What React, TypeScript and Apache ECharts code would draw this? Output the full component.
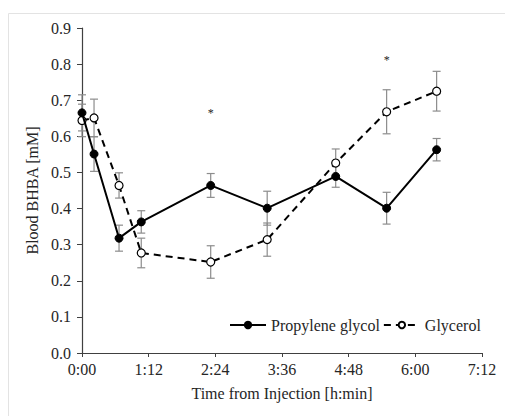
import React, { useEffect, useRef } from "react";
import * as echarts from "echarts";

const times = [0, 13, 40, 64, 139, 200, 274, 329, 383];
const propyleneGlycol = [0.665, 0.551, 0.318, 0.363, 0.464, 0.401, 0.489, 0.401, 0.563];
const propyleneGlycolErr = [0.05, 0.048, 0.036, 0.031, 0.033, 0.047, 0.03, 0.044, 0.031];
const glycerol = [0.644, 0.651, 0.464, 0.277, 0.252, 0.314, 0.526, 0.668, 0.725];
const glycerolErr = [0.045, 0.052, 0.035, 0.041, 0.045, 0.046, 0.039, 0.061, 0.055];
const asteriskTimes = [139, 329];
const asteriskLevels = [0.665, 0.812];

const FONT = "'Liberation Serif', 'Times New Roman', serif";

function fmtTime(v: number): string {
  const h = Math.floor(v / 60);
  const m = Math.round(v - h * 60);
  return h + ":" + (m < 10 ? "0" + m : String(m));
}

function errorBarItem(params: any, api: any) {
  const x = api.value(0);
  const y = api.value(1);
  const e = api.value(2);
  const top = api.coord([x, y + e]);
  const bot = api.coord([x, y - e]);
  const hw = 4;
  const style = { stroke: "#8c8c8c", lineWidth: 1.2 };
  return {
    type: "group",
    children: [
      { type: "line", shape: { x1: top[0], y1: top[1], x2: bot[0], y2: bot[1] }, style },
      { type: "line", shape: { x1: top[0] - hw, y1: top[1], x2: top[0] + hw, y2: top[1] }, style },
      { type: "line", shape: { x1: bot[0] - hw, y1: bot[1], x2: bot[0] + hw, y2: bot[1] }, style },
    ],
  };
}

function asteriskItem(params: any, api: any) {
  const p = api.coord([api.value(0), api.value(1)]);
  return {
    type: "text",
    style: {
      text: "*",
      x: p[0],
      y: p[1],
      align: "center",
      verticalAlign: "middle",
      fontSize: 12,
      fontFamily: FONT,
      fill: "#222",
    },
  };
}

export default function App() {
  const ref = useRef<HTMLDivElement>(null);
  useEffect(() => {
    if (!ref.current) return;
    const chart = echarts.init(ref.current, undefined, { renderer: "svg" });
    const pgData = times.map((t, i) => [t, propyleneGlycol[i]]);
    const gData = times.map((t, i) => [t, glycerol[i]]);
    const pgErrData = times.map((t, i) => [t, propyleneGlycol[i], propyleneGlycolErr[i]]);
    const gErrData = times.map((t, i) => [t, glycerol[i], glycerolErr[i]]);
    const astData = asteriskTimes.map((t, i) => [t, asteriskLevels[i]]);
    const txt = { fontFamily: FONT, fontSize: 16, color: "#262626" };
    chart.setOption({
      animation: false,
      textStyle: { fontFamily: FONT },
      graphic: [
        {
          type: "rect",
          shape: { x: 8.5, y: 13.5, width: 540, height: 440 },
          style: { fill: "none", stroke: "#e3e3e3", lineWidth: 1 },
          silent: true,
          z: -10,
        },
      ],
      grid: { left: 82, right: 23, top: 28, bottom: 63, containLabel: false },
      legend: {
        data: ["Propylene glycol", "Glycerol"],
        left: 229,
        top: 317,
        padding: 0,
        itemWidth: 36,
        itemHeight: 8,
        itemGap: 3,
        textStyle: txt,
      },
      xAxis: {
        type: "value",
        min: 0,
        max: 432,
        interval: 72,
        name: "Time from Injection [h:min]",
        nameLocation: "middle",
        nameGap: 32,
        nameTextStyle: txt,
        axisLine: { show: true, lineStyle: { color: "#404040", width: 1.2 } },
        axisTick: { show: true, inside: false, length: 4, lineStyle: { color: "#404040" } },
        axisLabel: { ...txt, formatter: (v: number) => fmtTime(v), margin: 8 },
        splitLine: { show: false },
      },
      yAxis: {
        type: "value",
        min: 0,
        max: 0.9,
        interval: 0.1,
        name: "Blood BHBA [mM]",
        nameLocation: "middle",
        nameGap: 42,
        nameTextStyle: txt,
        axisLine: { show: true, lineStyle: { color: "#404040", width: 1.2 } },
        axisTick: { show: true, inside: false, length: 5, lineStyle: { color: "#404040" } },
        axisLabel: { ...txt, formatter: (v: number) => v.toFixed(1), margin: 11 },
        splitLine: { show: false },
      },
      series: [
        {
          name: "pgErr",
          type: "custom",
          renderItem: errorBarItem,
          data: pgErrData,
          encode: { x: 0, y: 1 },
          z: 1,
          silent: true,
        },
        {
          name: "gErr",
          type: "custom",
          renderItem: errorBarItem,
          data: gErrData,
          encode: { x: 0, y: 1 },
          z: 1,
          silent: true,
        },
        {
          name: "Glycerol",
          type: "line",
          data: gData,
          symbol: "circle",
          symbolSize: 8,
          showAllSymbol: true,
          lineStyle: { color: "#000", width: 2, type: [7, 5] },
          itemStyle: { color: "#fff", borderColor: "#000", borderWidth: 1.2 },
          z: 3,
        },
        {
          name: "Propylene glycol",
          type: "line",
          data: pgData,
          symbol: "circle",
          symbolSize: 8,
          showAllSymbol: true,
          lineStyle: { color: "#000", width: 2, type: "solid" },
          itemStyle: { color: "#000", borderColor: "#000", borderWidth: 1 },
          z: 4,
        },
        {
          name: "asterisks",
          type: "custom",
          renderItem: asteriskItem,
          data: astData,
          encode: { x: 0, y: 1 },
          z: 5,
          silent: true,
        },
      ],
    });
    return () => chart.dispose();
  }, []);
  return (
    <div
      ref={ref}
      style={{ position: "fixed", left: 0, top: 0, width: 505, height: 416, background: "#fff" }}
    />
  );
}
